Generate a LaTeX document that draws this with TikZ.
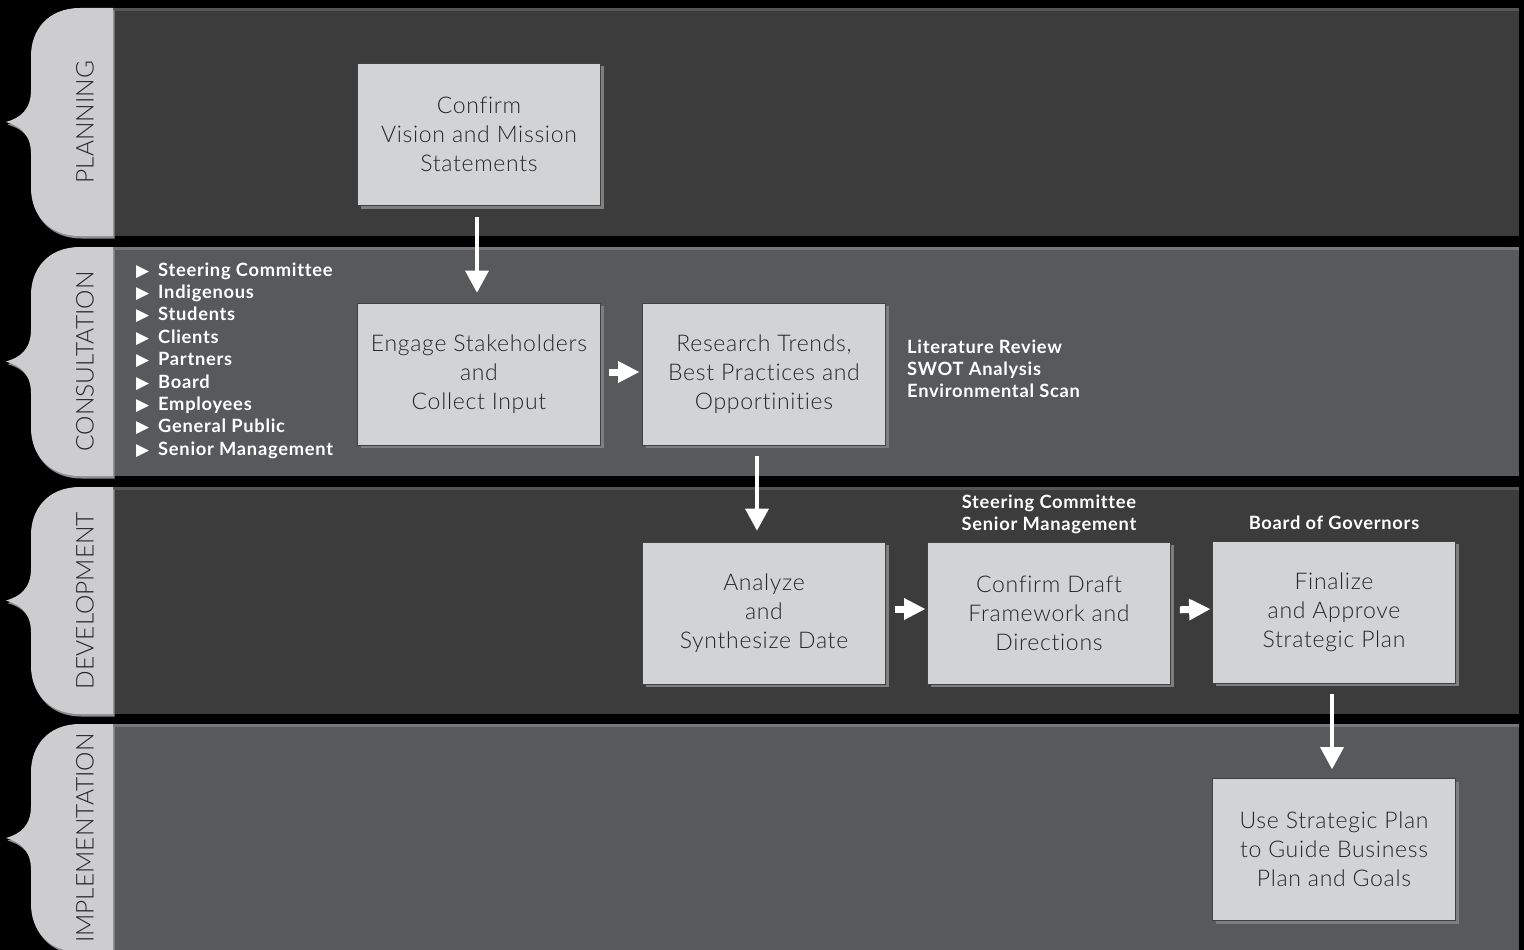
\documentclass[tikz,border=0pt]{standalone}
\usepackage{fontspec}
\setmainfont{Lato}
\newfontfamily\symfont{DejaVu Sans}
\newfontfamily\boxfont{Lato Light}[LetterSpace=3,Ligatures=NoCommon]
\newfontfamily\tabfont{Lato Light}
\newfontfamily\listfont{Lato}[LetterSpace=4,Ligatures=NoCommon]
\usetikzlibrary{arrows.meta,shadows}
\definecolor{bgdark}{HTML}{3C3C3C}
\definecolor{bgdarkhi}{HTML}{555555}
\definecolor{bglight}{HTML}{58595B}
\definecolor{bglighthi}{HTML}{76777A}
\definecolor{tabcol}{HTML}{CDCDCF}
\definecolor{tabshade}{HTML}{8E8E90}
\definecolor{boxcol}{HTML}{D2D3D5}
\definecolor{txtcol}{HTML}{262626}
\definecolor{shadowcol}{HTML}{7E7E7E}
\newcommand{\phasetab}[4]{%
  \pgfmathsetmacro\pT{#1}\pgfmathsetmacro\pB{#2}\pgfmathsetmacro\pM{(#1+#2)/2}%
  \begin{scope}[shift={(1.5,2.5)}]
  \fill[tabshade] (113,\pT) -- (80,\pT) .. controls (48,\pT) and (31,\pT+22) .. (31,\pT+48) -- (31,\pM-32) .. controls (31,\pM-12) and (20,\pM-4) .. (6,\pM) .. controls (20,\pM+4) and (31,\pM+12) .. (31,\pM+32) -- (31,\pB-48) .. controls (31,\pB-22) and (48,\pB) .. (80,\pB) -- (113,\pB) -- cycle;
  \end{scope}
  \fill[tabcol] (113,\pT) -- (80,\pT) .. controls (48,\pT) and (31,\pT+22) .. (31,\pT+48) -- (31,\pM-32) .. controls (31,\pM-12) and (20,\pM-4) .. (6,\pM) .. controls (20,\pM+4) and (31,\pM+12) .. (31,\pM+32) -- (31,\pB-48) .. controls (31,\pB-22) and (48,\pB) .. (80,\pB) -- (113,\pB) -- cycle;
  \node[tablabel] (#4) at (85,\pM) {#3};
}
\newcommand{\phaseband}[3]{%
  \fill[#3] (113,#1) rectangle (1519,#2);
  \fill[#3hi] (113,#1) rectangle (1519,#1+3);
}
\tikzset{
  stepbox/.style={draw=black!75, line width=0.8pt, fill=boxcol, minimum width=243pt,
    minimum height=142pt, align=center, text=txtcol, inner sep=0pt,
    font=\boxfont\fontsize{23}{29}\selectfont,
    general shadow={fill=shadowcol, shadow xshift=3pt, shadow yshift=-3pt}},
  tablabel/.style={rotate=90, text=txtcol, font=\tabfont\fontsize{24.5}{24}\selectfont, inner sep=0pt},
  notetext/.style={text=white, font=\listfont\bfseries\fontsize{18.3}{22.4}\selectfont, inner sep=0pt},
  flowdown/.style={draw=white, line width=4.5pt, -{Triangle[width=24pt,length=22pt,line width=0pt]}},
  flowright/.style={draw=white, line width=7pt, -{Triangle[width=22pt,length=21pt,line width=0pt]}},
}
\begin{document}
\begin{tikzpicture}[x=1pt,y=-1pt]
\useasboundingbox (0,0) rectangle (1524,950);
\fill[black] (0,0) rectangle (1524,950);
% bands
\phaseband{8}{236}{bgdark}
\phaseband{247}{476}{bglight}
\phaseband{487}{714}{bgdark}
\phaseband{724}{952}{bglight}
% tabs
\phasetab{8}{236}{PLANNING}{tplan}
\phasetab{247}{476}{CONSULTATION}{tcons}
\phasetab{487}{714}{DEVELOPMENT}{tdev}
\phasetab{724}{952}{IMPLEMENTATION}{timpl}
% boxes
\node[stepbox] (b1) at (479,134.5) {Confirm\\Vision and Mission\\Statements};
\node[stepbox] (b2) at (479,374) {Engage Stakeholders\\and\\Collect Input};
\node[stepbox] (b3) at (764,374) {Research Trends,\\Best Practices and\\Opportinities};
\node[stepbox] (b4) at (764,613) {Analyze\\and\\Synthesize Date};
\node[stepbox] (b5) at (1049,613) {Confirm Draft\\Framework and\\Directions};
\node[stepbox] (b6) at (1334,612) {Finalize\\and Approve\\Strategic Plan};
\node[stepbox] (b7) at (1334,849.5) {Use Strategic Plan\\to Guide Business\\Plan and Goals};
% arrows
\draw[flowdown, shorten <=11pt, shorten >=10pt] ([xshift=-2pt]b1.south) -- ([xshift=-2pt]b2.north);
\draw[flowright, shorten <=8pt, shorten >=3pt] ([yshift=2pt]b2.east) -- ([yshift=2pt]b3.west);
\draw[flowdown, shorten <=11pt, shorten >=11pt] ([xshift=-7pt]b3.south) -- ([xshift=-7pt]b4.north);
\draw[flowright, shorten <=9pt, shorten >=2pt] ([yshift=4pt]b4.east) -- ([yshift=4pt]b5.west);
\draw[flowright, shorten <=9pt, shorten >=2pt] ([yshift=3pt]b5.east) -- ([yshift=3pt]b6.west);
\draw[flowdown, shorten <=11pt, shorten >=9pt] ([xshift=-2pt]b6.south) -- ([xshift=-2pt]b7.north);
% stakeholder list
\foreach \t [count=\i] in {Steering Committee, Indigenous, Students, Clients, Partners, Board, Employees, General Public, Senior Management}
  \node[notetext, anchor=base west] (li\i) at (136,{276+(\i-1)*22.4}) {\makebox[22pt][l]{\symfont\fontsize{17}{17}\selectfont ▶}\t};
% research notes
\foreach \t [count=\i] in {Literature Review, SWOT Analysis, Environmental Scan}
  \node[notetext, anchor=base west] (rn\i) at (907,{353+(\i-1)*22.4}) {\t};
\node[notetext, anchor=base] (dn1) at (1049,508) {Steering Committee};
\node[notetext, anchor=base] (dn2) at (1049,530.4) {Senior Management};
\node[notetext, anchor=base] (dn3) at (1334,529) {Board of Governors};
\end{tikzpicture}
\end{document}
